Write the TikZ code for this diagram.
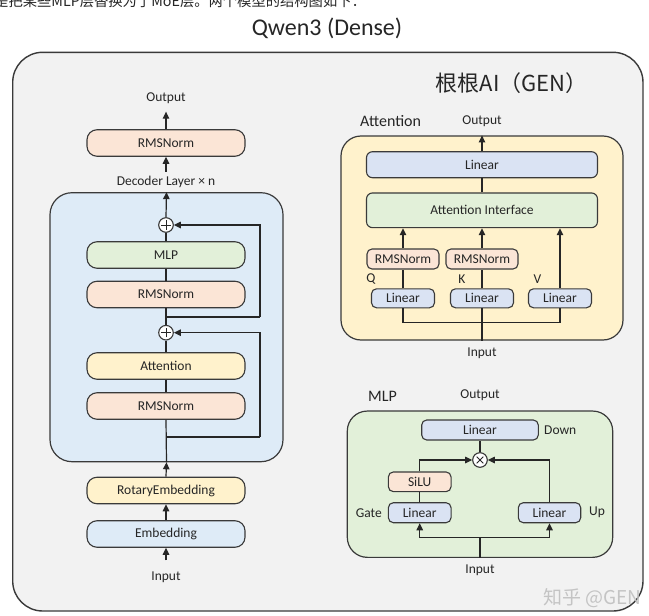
\documentclass[tikz,border=0pt]{standalone}
\usepackage{fontspec}
\setmainfont{Carlito}
\newfontfamily\cjk{Noto Sans CJK SC}
\usetikzlibrary{arrows.meta}
\definecolor{bord}{HTML}{3A3A3A}
\definecolor{wirec}{HTML}{262626}
\definecolor{txt}{HTML}{262626}
\definecolor{outerf}{HTML}{F2F2F2}
\definecolor{peach}{HTML}{FBE5D6}
\definecolor{greenf}{HTML}{E2F0D9}
\definecolor{yellowf}{HTML}{FFF2CC}
\definecolor{bluef}{HTML}{DEEBF7}
\definecolor{lav}{HTML}{DAE3F3}
\definecolor{wm}{HTML}{C4C4C4}
\begin{document}
\begin{tikzpicture}[x=1pt,y=-1pt,
  lbl/.style={font=\fontsize{13.5}{16}\selectfont, text=txt, inner sep=0pt},
  head/.style={font=\fontsize{16}{19}\selectfont, text=txt, inner sep=0pt},
  bx/.style={draw=bord, line width=1.1pt, inner sep=0pt, font=\fontsize{13.5}{16}\selectfont, text=txt},
  pill/.style={bx, rounded corners=10pt, minimum width=158pt, minimum height=26.5pt},
  sm/.style={bx, rounded corners=5pt},
  group/.style={draw=bord, line width=1.2pt, inner sep=0pt},
  wire/.style={draw=wirec, line width=1.2pt},
  arr/.style={wire, -{Triangle[length=7pt,width=6.5pt]}},
  op/.style={circle, draw=bord, fill=white, line width=1.1pt, minimum size=14.6pt, inner sep=0pt},
  plusop/.style={op, path picture={
     \draw[line width=1pt, wirec] ([xshift=-4.6pt]path picture bounding box.center) -- ([xshift=4.6pt]path picture bounding box.center);
     \draw[line width=1pt, wirec] ([yshift=-4.6pt]path picture bounding box.center) -- ([yshift=4.6pt]path picture bounding box.center);}},
  timesop/.style={op, path picture={
     \draw[line width=1pt, wirec] ([shift={(-3.3pt,-3.3pt)}]path picture bounding box.center) -- ([shift={(3.3pt,3.3pt)}]path picture bounding box.center);
     \draw[line width=1pt, wirec] ([shift={(-3.3pt,3.3pt)}]path picture bounding box.center) -- ([shift={(3.3pt,-3.3pt)}]path picture bounding box.center);}}
]
\useasboundingbox (0,0) rectangle (649,616);
\fill[white] (0,0) rectangle (649,616);

% header texts
\node[font=\cjk\fontsize{14.3}{16}\selectfont, text=txt, anchor=base west, inner sep=0pt] (intro) at (-6,6.5) {是把某些MLP层替换为了MoE层。两个模型的结构图如下：};
\node[font=\fontsize{24}{28}\selectfont, text=txt, inner sep=0pt] (title) at (327,28) {Qwen3 (Dense)};

% outer frame
\node[group, line width=1.4pt, fill=outerf, rounded corners=30pt, minimum width=630.3pt, minimum height=558.7pt] (frame) at (327.85,331.65) {};
\node[font=\cjk\fontsize{22}{26}\selectfont, text=txt, inner sep=0pt] (brand) at (511.7,83.3) {根根AI（GEN）};

% ---------- left column ----------
\node[lbl] (out) at (166,98) {Output};
\node[pill, fill=peach] (rmsout) at (166,143) {RMSNorm};
\node[lbl] (dec) at (166,181.7) {Decoder Layer × n};
\node[group, fill=bluef, rounded corners=22pt, minimum width=233pt, minimum height=269pt] (dl) at (166.5,327.2) {};
\node[plusop] (p1) at (166,225) {};
\node[pill, fill=greenf] (mlp) at (166,255) {MLP};
\node[pill, fill=peach] (rms1) at (166,294.5) {RMSNorm};
\node[plusop] (p2) at (166,332.7) {};
\node[pill, fill=yellowf] (att) at (166,366) {Attention};
\node[pill, fill=peach] (rms2) at (166,406) {RMSNorm};
\node[pill, fill=yellowf] (rot) at (166,490.5) {RotaryEmbedding};
\node[pill, fill=bluef] (emb) at (166,534) {Embedding};
\node[lbl] (inp) at (166,577) {Input};
\coordinate (j1) at (166,317);
\coordinate (r1) at (260,317);
\coordinate (j2) at (166,437);
\coordinate (r2) at (260,437);

\draw[arr, shorten >=8pt] (rmsout.north) -- (out.south);
\draw[arr, shorten <=4pt] (dec.north) -- (rmsout.south);
\draw[arr] (p1.north) -- (dl.north);
\draw[wire] (p1.south) -- (mlp.north);
\draw[wire] (mlp.south) -- (rms1.north);
\draw[wire] (rms1.south) -- (p2.north);
\draw[wire] (j1) -- (r1);
\draw[arr] (r1) |- (p1.east);
\draw[wire] (p2.south) -- (att.north);
\draw[wire] (att.south) -- (rms2.north);
\draw[wire] (rms2.south) -- (dl.south);
\draw[wire] (j2) -- (r2);
\draw[arr] (r2) |- (p2.east);
\draw[arr] (rot.north) -- (dl.south);
\draw[arr] (emb.north) -- (rot.south);
\draw[arr, shorten <=11pt] (inp.north) -- (emb.south);

% ---------- Attention block ----------
\node[group, fill=yellowf, rounded corners=20pt, minimum width=282pt, minimum height=204pt] (yb) at (482,238) {};
\node[head, anchor=west] (atth) at (360,120.7) {Attention};
\node[lbl] (aout) at (482,121.7) {Output};
\node[sm, fill=lav, rounded corners=6pt, minimum width=231pt, minimum height=26pt] (atop) at (482,164.7) {Linear};
\node[sm, fill=greenf, rounded corners=6pt, minimum width=231pt, minimum height=34.7pt] (ai) at (482,210.3) {Attention Interface};
\node[sm, fill=peach, minimum width=72pt, minimum height=20pt] (an1) at (403,259) {RMSNorm};
\node[sm, fill=peach, minimum width=72pt, minimum height=20pt] (an2) at (482,259) {RMSNorm};
\node[sm, fill=lav, minimum width=63pt, minimum height=19pt] (al1) at (403,298.3) {Linear};
\node[sm, fill=lav, minimum width=63pt, minimum height=19pt] (al2) at (482,298.3) {Linear};
\node[sm, fill=lav, minimum width=63pt, minimum height=19pt] (al3) at (560,298.3) {Linear};
\node[lbl] (lq) at (371,279) {Q};
\node[lbl] (lk) at (462,279) {K};
\node[lbl] (lv) at (537.5,279) {V};
\node[lbl] (ain) at (482,353) {Input};
\coordinate (ab) at (482,322.3);

\draw[wire] (ai.north) -- (atop.south);
\draw[arr] (atop.north) -- (yb.north);
\draw[wire] (al1.north) -- (an1.south);
\draw[arr] (an1.north) -- (an1.north |- ai.south);
\draw[wire] (al2.north) -- (an2.south);
\draw[arr] (an2.north) -- (an2.north |- ai.south);
\draw[arr] (al3.north) -- (al3.north |- ai.south);
\draw[wire] (al1.south) |- (ab) -| (al3.south);
\draw[wire] (yb.south) -- (al2.south);

% ---------- MLP block ----------
\node[group, fill=greenf, rounded corners=20pt, minimum width=265.4pt, minimum height=146.3pt] (gb) at (480,484.2) {};
\node[head, anchor=west] (mlph) at (368,396.7) {MLP};
\node[lbl] (mout) at (480,395.7) {Output};
\node[sm, fill=lav, minimum width=116.6pt, minimum height=20pt] (ml) at (480,430) {Linear};
\node[lbl, anchor=west] (ldown) at (544,430) {Down};
\node[timesop] (mx) at (480,460) {};
\node[sm, fill=peach, minimum width=62.7pt, minimum height=19.7pt] (silu) at (419.7,481.8) {SiLU};
\node[sm, fill=lav, minimum width=62.7pt, minimum height=20pt] (gl) at (419.7,512.7) {Linear};
\node[lbl, anchor=east] (lgate) at (382,512.7) {Gate};
\node[sm, fill=lav, minimum width=62.4pt, minimum height=20pt] (ul) at (549.5,512.7) {Linear};
\node[lbl, anchor=west] (lup) at (589,512.7) {Up};
\node[lbl] (min) at (480,570.7) {Input};
\coordinate (mb) at (480,537.3);

\draw[wire] (mx.north) -- (ml.south);
\draw[wire] (gl.north) -- (silu.south);
\draw[arr] (silu.north) |- (mx.west);
\draw[arr] (ul.north) |- (mx.east);
\draw[wire] (gb.south) -- (mb);
\draw[arr] (mb) -| (gl.south);
\draw[arr] (mb) -| (ul.south);

% watermark
\node[font=\cjk\fontsize{19}{22}\selectfont, text=wm, anchor=west, inner sep=0pt] (wmark) at (543,598) {知乎 @GEN};
\end{tikzpicture}
\end{document}
